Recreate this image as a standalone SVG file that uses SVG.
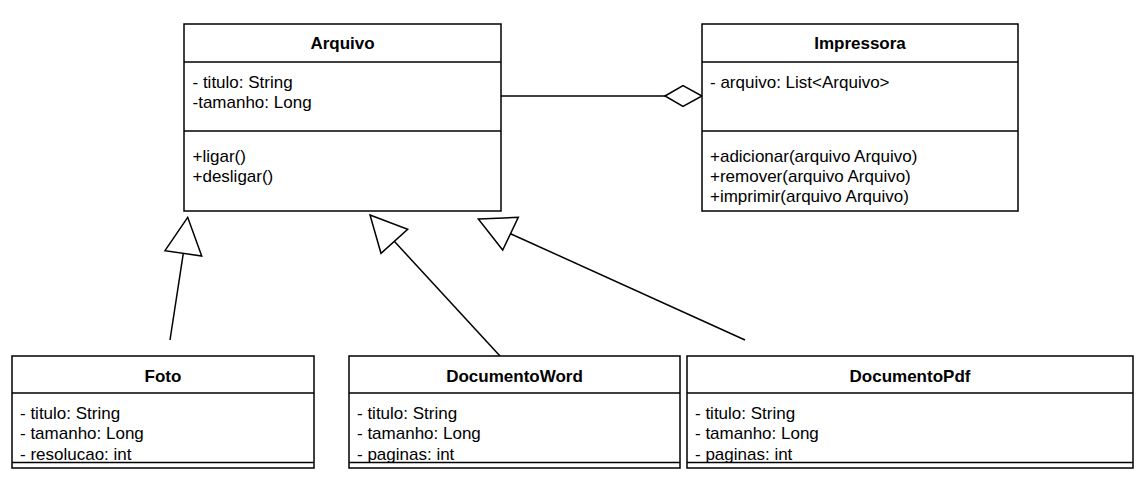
<svg xmlns="http://www.w3.org/2000/svg" width="1147" height="504" viewBox="0 0 1147 504">
<style>
.box{fill:#fff;stroke:#000;stroke-width:1.5}
.ln{fill:none;stroke:#000;stroke-width:1.5}
.t{font-family:"Liberation Sans",Arial,sans-serif;font-size:17px;fill:#000}
.h{font-family:"Liberation Sans",Arial,sans-serif;font-size:17px;font-weight:bold;fill:#000;text-anchor:middle}
.tri{fill:#fff;stroke:#000;stroke-width:1.5;stroke-linejoin:miter}
</style>
<defs>
<clipPath id="clipBottom"><rect x="0" y="394" width="1147" height="68"/></clipPath>
</defs>
<rect width="1147" height="504" fill="#fff"/>
<g id="connectors">
<line class="ln" x1="501" y1="96" x2="665" y2="96"/>
<polygon class="tri" points="665,96 683,85.5 702,96 683,106.5"/>
<line class="ln" x1="170" y1="340" x2="183.3" y2="253.3"/>
<polygon class="tri" points="187.7,217.3 165,250.7 201.7,256"/>
<line class="ln" x1="500" y1="356" x2="394.5" y2="241.5"/>
<polygon class="tri" points="370,215 407.7,229.3 381,253.3"/>
<line class="ln" x1="745" y1="340" x2="510.5" y2="233.7"/>
<polygon class="tri" points="478.3,219 518.3,217.3 502.7,250"/>
</g>
<g id="Arquivo">
<rect class="box" x="184" y="24" width="317" height="187"/>
<line class="ln" x1="184" y1="62" x2="501" y2="62"/>
<line class="ln" x1="184" y1="131" x2="501" y2="131"/>
<text class="h" x="342.5" y="48.5">Arquivo</text>
<text class="t" x="192.5" y="87.5">- titulo: String</text>
<text class="t" x="192.5" y="107.5">-tamanho: Long</text>
<text class="t" x="192.5" y="161.5">+ligar()</text>
<text class="t" x="192.5" y="181.5">+desligar()</text>
</g>
<g id="Impressora">
<rect class="box" x="702" y="24" width="316" height="187"/>
<line class="ln" x1="702" y1="62" x2="1018" y2="62"/>
<line class="ln" x1="702" y1="131" x2="1018" y2="131"/>
<text class="h" x="860" y="48.5">Impressora</text>
<text class="t" x="710" y="87.5">- arquivo: List&lt;Arquivo&gt;</text>
<text class="t" x="710" y="161.5">+adicionar(arquivo Arquivo)</text>
<text class="t" x="710" y="181.5">+remover(arquivo Arquivo)</text>
<text class="t" x="710" y="201.5">+imprimir(arquivo Arquivo)</text>
</g>
<g id="Foto">
<rect class="box" x="12" y="356" width="302" height="112"/>
<line class="ln" x1="12" y1="393" x2="314" y2="393"/>
<g clip-path="url(#clipBottom)">
<text class="t" x="20" y="419">- titulo: String</text>
<text class="t" x="20" y="439">- tamanho: Long</text>
<text class="t" x="20" y="460">- resolucao: int</text>
</g>
<line class="ln" x1="12" y1="462.5" x2="314" y2="462.5"/>
<text class="h" x="163" y="382">Foto</text>
</g>
<g id="DocumentoWord">
<rect class="box" x="349" y="356" width="331" height="112"/>
<line class="ln" x1="349" y1="393" x2="680" y2="393"/>
<g clip-path="url(#clipBottom)">
<text class="t" x="357" y="419">- titulo: String</text>
<text class="t" x="357" y="439">- tamanho: Long</text>
<text class="t" x="357" y="460">- paginas: int</text>
</g>
<line class="ln" x1="349" y1="462.5" x2="680" y2="462.5"/>
<text class="h" x="514.5" y="382">DocumentoWord</text>
</g>
<g id="DocumentoPdf">
<rect class="box" x="687" y="356" width="446" height="112"/>
<line class="ln" x1="687" y1="393" x2="1133" y2="393"/>
<g clip-path="url(#clipBottom)">
<text class="t" x="695" y="419">- titulo: String</text>
<text class="t" x="695" y="439">- tamanho: Long</text>
<text class="t" x="695" y="460">- paginas: int</text>
</g>
<line class="ln" x1="687" y1="462.5" x2="1133" y2="462.5"/>
<text class="h" x="910" y="382">DocumentoPdf</text>
</g>
</svg>
